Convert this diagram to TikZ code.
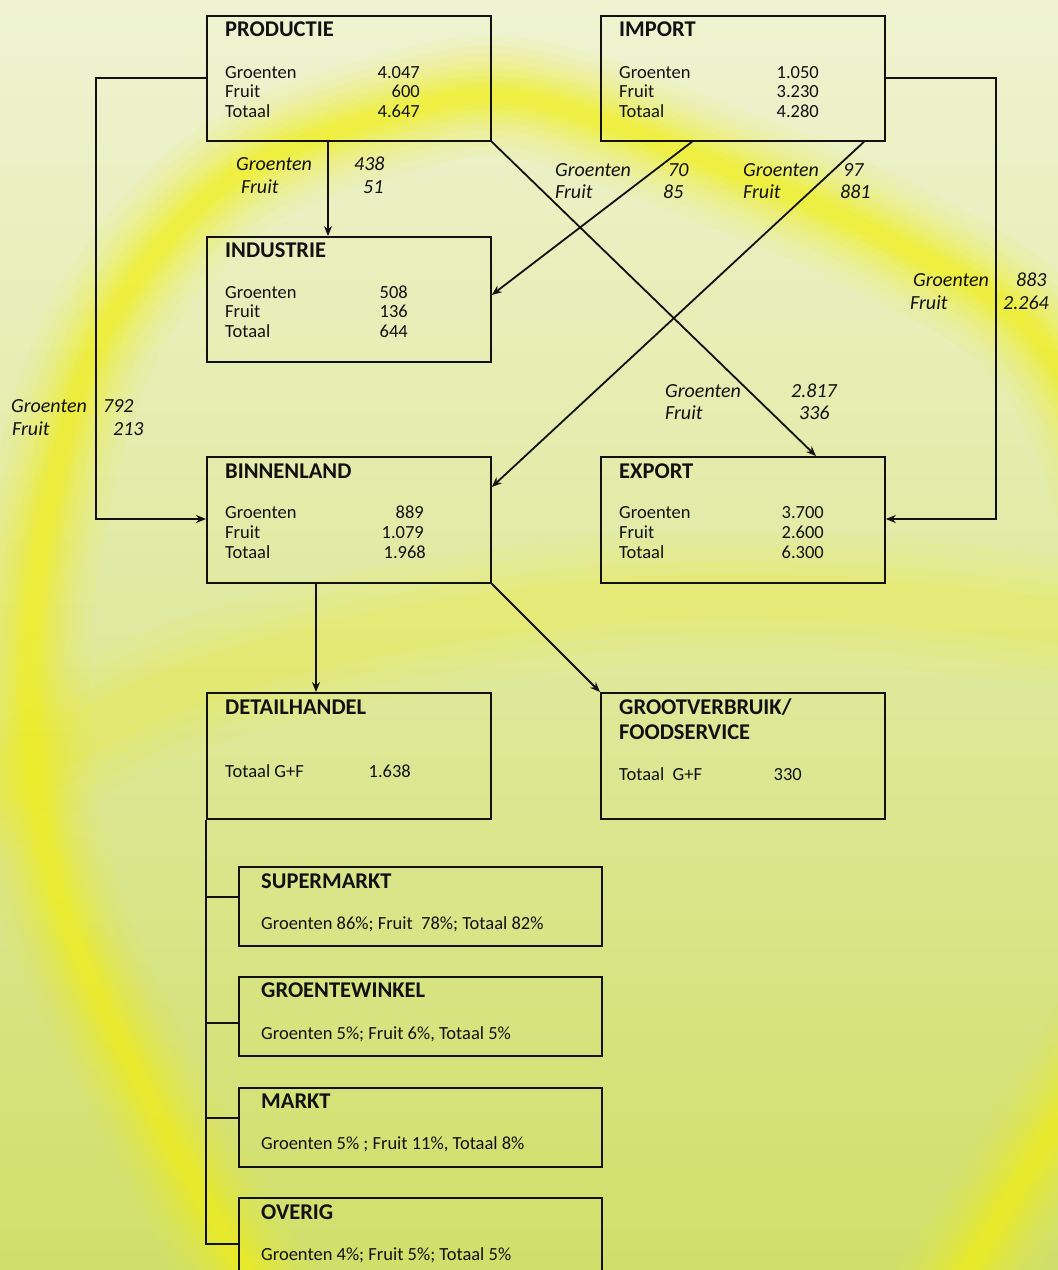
\documentclass[tikz,border=0pt]{standalone}
\usepackage{fontspec}
\setmainfont{Carlito}
\usetikzlibrary{arrows.meta}
\definecolor{bgtop}{HTML}{EFF3D2}
\definecolor{bgmid}{HTML}{E2EAA4}
\definecolor{bgbot}{HTML}{D0DF6A}
\definecolor{glowc}{HTML}{F2EF18}
\definecolor{ink}{HTML}{111111}
\begin{document}
\begin{tikzpicture}[x=1pt,y=-1pt,
  box/.style={draw=ink, line width=1.8pt, anchor=north west, inner sep=0pt, rectangle, minimum width=284pt, minimum height=125pt},
  subbox/.style={box, minimum width=363pt, minimum height=79pt},
  ttl/.style={anchor=base west, inner sep=0pt, text=ink, font=\fontsize{22.5}{25}\selectfont\bfseries},
  txt/.style={anchor=base west, inner sep=0pt, text=ink, font=\fontsize{18.5}{20}\selectfont},
  num/.style={anchor=base east, inner sep=0pt, text=ink, font=\fontsize{18.5}{20}\selectfont},
  lbl/.style={anchor=base west, inner sep=0pt, text=ink, font=\fontsize{20}{22}\selectfont\itshape},
  flow/.style={draw=ink, line width=1.8pt, -{Stealth[length=10pt,width=8pt]}},
  link/.style={draw=ink, line width=1.8pt}
]
\useasboundingbox (0,0) rectangle (1058,1270);
\begin{scope}
\clip (0,0) rectangle (1058,1270);
\shade[top color=bgtop, middle color=bgmid, bottom color=bgbot] (0,0) rectangle (1058,1270);
% soft yellow swirls
\foreach \w/\o in {120/0.07, 100/0.08, 84/0.10, 68/0.12, 54/0.15, 40/0.19, 28/0.23, 16/0.27} {
  \draw[line width=\w pt, glowc, opacity=\o, line cap=round]
    plot[smooth, tension=0.6] coordinates {(280,1330) (160,1120) (60,900) (30,700) (50,500) (110,320) (230,180) (400,112) (530,100) (730,170) (900,245) (1030,330) (1110,480) (1150,720) (1130,980) (1010,1200) (930,1330)};
}
\foreach \w/\o in {130/0.06, 100/0.07, 72/0.09, 46/0.11} {
  \draw[line width=\w pt, glowc, opacity=\o, line cap=round]
    plot[smooth, tension=0.6] coordinates {(-30,800) (150,700) (350,640) (600,602) (850,600) (1090,625)};
}
\end{scope}

% main boxes
\node[box] (prod) at (206,15) {};
\node[box] (imp) at (600,15) {};
\node[box, minimum height=125pt] (ind) at (206,236) {};
\node[box, minimum height=126pt] (binn) at (206,456) {};
\node[box, minimum height=126pt] (exp) at (600,456) {};
\node[box, minimum height=126pt] (det) at (206,692) {};
\node[box, minimum height=126pt] (groot) at (600,692) {};
\node[subbox] (sup) at (238,866) {};
\node[subbox] (gw) at (238,976) {};
\node[subbox] (markt) at (238,1087) {};
\node[subbox] (ov) at (238,1197) {};

% PRODUCTIE
\node[ttl] (prodT) at (225,36) {PRODUCTIE};
\node[txt] (prodG) at (225,78) {Groenten};
\node[txt] (prodF) at (225,97) {Fruit};
\node[txt] (prodS) at (225,117) {Totaal};
\node[num] (prodGn) at (420,78) {4.047};
\node[num] (prodFn) at (420,97) {600};
\node[num] (prodSn) at (420,117) {4.647};
% IMPORT
\node[ttl] (impT) at (619,36) {IMPORT};
\node[txt] (impG) at (619,78) {Groenten};
\node[txt] (impF) at (619,97) {Fruit};
\node[txt] (impS) at (619,117) {Totaal};
\node[num] (impGn) at (819,78) {1.050};
\node[num] (impFn) at (819,97) {3.230};
\node[num] (impSn) at (819,117) {4.280};
% INDUSTRIE
\node[ttl] (indT) at (225,257) {INDUSTRIE};
\node[txt] (indG) at (225,298) {Groenten};
\node[txt] (indF) at (225,317) {Fruit};
\node[txt] (indS) at (225,337) {Totaal};
\node[num] (indGn) at (408,298) {508};
\node[num] (indFn) at (408,317) {136};
\node[num] (indSn) at (408,337) {644};
% BINNENLAND
\node[ttl] (binnT) at (225,478) {BINNENLAND};
\node[txt] (binnG) at (225,518) {Groenten};
\node[txt] (binnF) at (225,538) {Fruit};
\node[txt] (binnS) at (225,558) {Totaal};
\node[num] (binnGn) at (424,518) {889};
\node[num] (binnFn) at (424,538) {1.079};
\node[num] (binnSn) at (426,558) {1.968};
% EXPORT
\node[ttl] (expT) at (619,478) {EXPORT};
\node[txt] (expG) at (619,518) {Groenten};
\node[txt] (expF) at (619,538) {Fruit};
\node[txt] (expS) at (619,558) {Totaal};
\node[num] (expGn) at (824,518) {3.700};
\node[num] (expFn) at (824,538) {2.600};
\node[num] (expSn) at (824,558) {6.300};
% DETAILHANDEL
\node[ttl] (detT) at (225,714) {DETAILHANDEL};
\node[txt] (detS) at (225,777) {Totaal G+F};
\node[num] (detSn) at (411,777) {1.638};
% GROOTVERBRUIK
\node[ttl] (grootT) at (619,714) {GROOTVERBRUIK/};
\node[ttl] (grootT2) at (619,739) {FOODSERVICE};
\node[txt] (grootS) at (619,780) {Totaal\ \ G+F};
\node[num] (grootSn) at (802,780) {330};
% retail channels
\node[ttl] (supT) at (261,888) {SUPERMARKT};
\node[txt] (supS) at (261,929) {Groenten 86\%; Fruit\ \ 78\%; Totaal 82\%};
\node[ttl] (gwT) at (261,997) {GROENTEWINKEL};
\node[txt] (gwS) at (261,1039) {Groenten 5\%; Fruit 6\%, Totaal 5\%};
\node[ttl] (marktT) at (261,1108) {MARKT};
\node[txt] (marktS) at (261,1149) {Groenten 5\% ; Fruit 11\%, Totaal 8\%};
\node[ttl] (ovT) at (261,1219) {OVERIG};
\node[txt] (ovS) at (261,1260) {Groenten 4\%; Fruit 5\%; Totaal 5\%};

% connectors
\draw[flow] ([yshift=-63pt]prod.north west) -- ++(-110,0) |- ([yshift=-63pt]binn.north west);
\draw[flow] ([yshift=-63pt]imp.north east) -- ++(110,0) |- ([yshift=-63pt]exp.north east);
\draw[flow] ([xshift=122pt]prod.south west) -- ([xshift=122pt]ind.north west);
\draw[flow] (prod.south east) -- ([xshift=216pt]exp.north west);
\draw[flow] ([xshift=92pt]imp.south west) -- ([yshift=-59pt]ind.north east);
\draw[flow] ([xshift=264pt]imp.south west) -- ([yshift=-31pt]binn.north east);
\draw[flow] ([xshift=110pt]binn.south west) -- ([xshift=110pt]det.north west);
\draw[flow] (binn.south east) -- (groot.north west);
\draw[link] (det.south west) |- ([yshift=-47pt]ov.north west);
\draw[link] ([yshift=-31pt]sup.north west) -- +(-32,0);
\draw[link] ([yshift=-47pt]gw.north west) -- +(-32,0);
\draw[link] ([yshift=-31pt]markt.north west) -- +(-32,0);

% flow labels
\node[lbl] (l1g) at (11,412) {Groenten};
\node[lbl] (l1gn) at (103,412) {792};
\node[lbl] (l1f) at (12,435) {Fruit};
\node[lbl] (l1fn) at (113,435) {213};

\node[lbl] (l2g) at (236,170) {Groenten};
\node[lbl] (l2gn) at (354,170) {438};
\node[lbl] (l2f) at (241,193) {Fruit};
\node[lbl] (l2fn) at (363,193) {51};

\node[lbl] (l3g) at (555,176) {Groenten};
\node[lbl] (l3gn) at (668,176) {70};
\node[lbl] (l3f) at (555,198) {Fruit};
\node[lbl] (l3fn) at (663,198) {85};

\node[lbl] (l4g) at (743,176) {Groenten};
\node[lbl] (l4gn) at (843,176) {97};
\node[lbl] (l4f) at (743,198) {Fruit};
\node[lbl] (l4fn) at (840,198) {881};

\node[lbl] (l5g) at (913,286) {Groenten};
\node[lbl] (l5gn) at (1016,286) {883};
\node[lbl] (l5f) at (910,309) {Fruit};
\node[lbl] (l5fn) at (1003,309) {2.264};

\node[lbl] (l6g) at (665,397) {Groenten};
\node[lbl] (l6gn) at (791,397) {2.817};
\node[lbl] (l6f) at (665,419) {Fruit};
\node[lbl] (l6fn) at (799,419) {336};
\end{tikzpicture}
\end{document}
